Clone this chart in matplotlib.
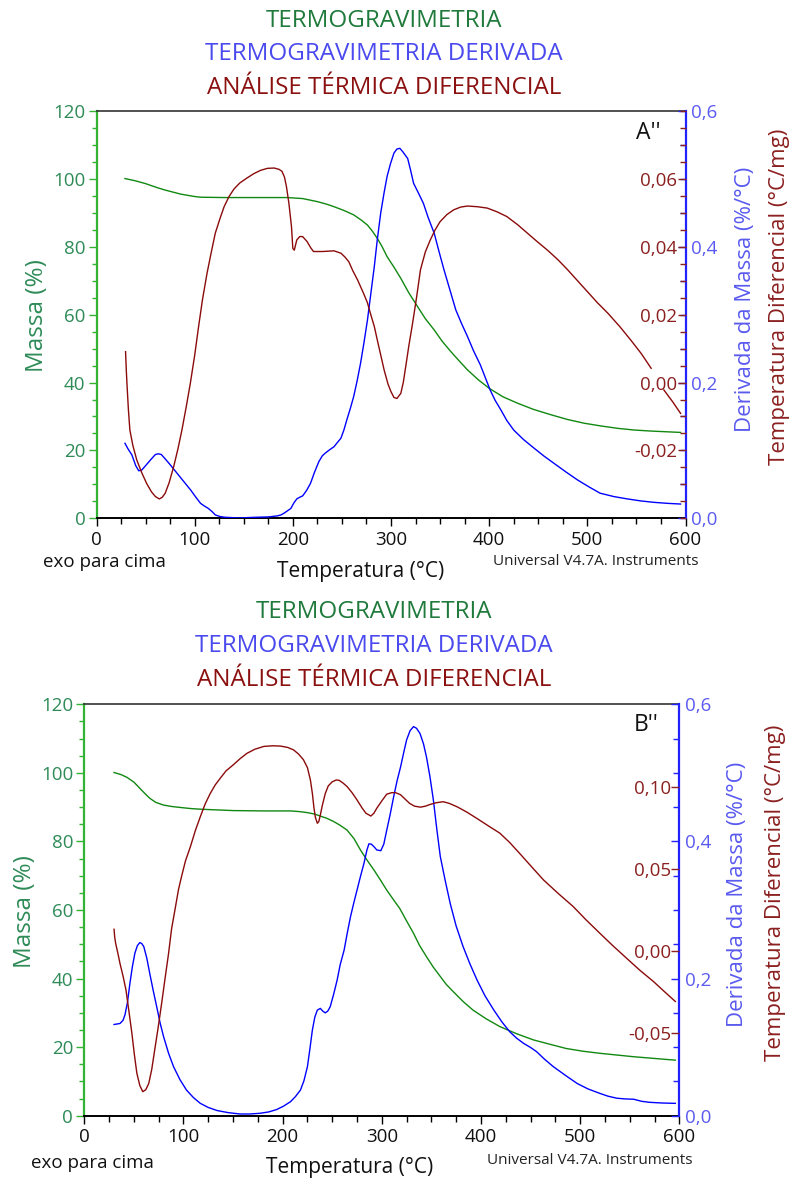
import matplotlib
matplotlib.use('Agg')
import matplotlib.pyplot as plt
from matplotlib.ticker import MultipleLocator, FixedLocator, FuncFormatter
import numpy as np

plt.rcParams['font.family'] = ['Open Sans', 'DejaVu Sans']

# ---------------- Panel A'' data ----------------
a_tg_T = [29, 40, 50, 62, 70, 78, 86, 92, 100, 106, 130, 160, 194, 210, 225, 235, 242, 252,
          262, 270, 276, 281, 286, 291, 296, 303, 310, 318, 327, 335, 344, 352, 361, 370,
          378, 389, 400, 414, 429, 445, 463, 480, 497, 514, 531, 548, 565, 580, 595]
a_tg = [100.1, 99.4, 98.6, 97.4, 96.7, 96.1, 95.5, 95.2, 94.8, 94.6, 94.5, 94.5, 94.5, 94.2,
        93.3, 92.5, 91.8, 90.7, 89.4, 87.8, 86.4, 84.6, 82.5, 80.0, 77.1, 74.0, 70.7, 66.5,
        62.4, 58.8, 55.5, 52.2, 49.1, 46.2, 43.7, 40.8, 38.3, 35.8, 33.9, 32.1, 30.5, 29.1,
        28.0, 27.2, 26.5, 26.0, 25.7, 25.5, 25.3]

a_dtg_T = [29, 32, 36, 40, 43, 46, 50, 55, 60, 63, 66, 70, 75, 82, 89, 96, 101, 106, 110,
           114, 118, 121, 126, 131, 145, 162, 175, 184, 188, 191, 194, 198, 201, 204, 207,
           210, 214, 218, 222, 226.5, 230, 233, 238, 242, 245, 249, 252, 255, 258.5, 262,
           265.5, 269, 272.5, 276, 279.5, 283, 286, 289.5, 293, 296, 299.5, 303, 306, 309,
           312, 317, 320, 323, 328, 333, 338, 344, 349, 354, 360, 366, 372, 378, 384, 391,
           396, 401, 406, 412, 418, 425, 435, 446, 456, 466, 478, 490, 502, 513, 527, 541,
           555, 568, 582, 595]
a_dtg = [0.1105, 0.1025, 0.0935, 0.0775, 0.0700, 0.0710, 0.0775, 0.0860, 0.0940, 0.0950,
         0.0940, 0.0875, 0.0790, 0.0665, 0.0540, 0.0415, 0.0315, 0.0220, 0.0180, 0.0145,
         0.0095, 0.0050, 0.0025, 0.0015, 0.0005, 0.0015, 0.0020, 0.0035, 0.0050, 0.0075,
         0.0105, 0.0145, 0.0225, 0.0285, 0.0310, 0.0330, 0.0410, 0.0515, 0.0675, 0.0835,
         0.0920, 0.0960, 0.1015, 0.1055, 0.1110, 0.1180, 0.1300, 0.1450, 0.1615, 0.1795,
         0.2025, 0.2285, 0.2590, 0.2920, 0.3315, 0.3710, 0.4100, 0.4495, 0.4800, 0.5035,
         0.5225, 0.5380, 0.5440, 0.5450, 0.5400, 0.5300, 0.5125, 0.4935, 0.4790, 0.4640,
         0.4425, 0.4200, 0.3925, 0.3660, 0.3365, 0.3070, 0.2865, 0.2675, 0.2470, 0.2260,
         0.2075, 0.1890, 0.1740, 0.1595, 0.1440, 0.1300, 0.1160, 0.1030, 0.0915, 0.0810,
         0.0685, 0.0565, 0.0460, 0.0370, 0.0320, 0.0285, 0.0255, 0.0235, 0.0220, 0.0210]

a_dta_T = [29.6, 30.3, 31, 32.5, 34, 37, 41, 46, 51, 56, 60, 64, 67, 70, 74, 78.6, 83, 87,
           91.5, 95.6, 100, 104, 108, 112.6, 117, 121, 126, 130, 135, 140, 146, 153, 160, 167,
           174, 181, 186, 189, 191.5, 193.5, 196, 198.6, 200, 201.5, 204, 207, 210, 214.6,
           218, 221, 230, 242, 249, 253, 257, 261, 266, 272, 276, 279, 283, 286, 290, 293,
           297, 300, 303, 306, 310, 312.5, 315, 318, 322, 326, 330, 335, 340, 345, 350, 357,
           364, 371, 378, 388, 398, 408, 418, 429, 439, 449, 459, 470, 480, 490, 500, 510,
           521, 533, 544, 555, 565, 571, 578, 587, 595]
a_dta = [0.0091, 0.0040, -0.0002, -0.0080, -0.0140, -0.0185, -0.0228, -0.0265, -0.0297,
         -0.0322, -0.0336, -0.0343, -0.0338, -0.0326, -0.0295, -0.0248, -0.0195, -0.0140,
         -0.0070, -0.0002, 0.0080, 0.0165, 0.0245, 0.0322, 0.0385, 0.0440, 0.0485, 0.0518,
         0.0548, 0.0570, 0.0588, 0.0602, 0.0615, 0.0625, 0.0631, 0.0632, 0.0628, 0.0622,
         0.0605, 0.0577, 0.0528, 0.0460, 0.0395, 0.0390, 0.0420, 0.0430, 0.0430, 0.0415,
         0.0398, 0.0386, 0.0386, 0.0388, 0.0381, 0.0370, 0.0356, 0.0330, 0.0302, 0.0263,
         0.0235, 0.0204, 0.0165, 0.0126, 0.0075, 0.0037, -0.0005, -0.0027, -0.0044, -0.0047,
         -0.0032, 0.0000, 0.0047, 0.0105, 0.0175, 0.0250, 0.0332, 0.0385, 0.0420, 0.0450,
         0.0474, 0.0495, 0.0509, 0.0517, 0.0520, 0.0518, 0.0514, 0.0503, 0.0489, 0.0465,
         0.0440, 0.0415, 0.0391, 0.0362, 0.0332, 0.0300, 0.0268, 0.0236, 0.0204, 0.0165,
         0.0126, 0.0085, 0.0042, np.nan, -0.0022, -0.0057, -0.0091]

# ---------------- Panel B'' data ----------------
b_tg_T = [30, 37, 43, 50, 56, 61, 66, 72, 80, 88, 97, 107, 117, 150, 180, 208, 217, 225, 232,
          238, 245, 251.5, 258, 265, 272, 278.5, 285, 292, 298.5, 305, 312, 318, 325, 332,
          338, 345, 352, 359, 365, 372, 382, 392, 405, 419, 436, 453, 470, 486, 503, 520,
          537, 554, 575, 596]
b_tg = [100.1, 99.5, 98.7, 97.3, 95.5, 94.0, 92.6, 91.4, 90.6, 90.2, 89.9, 89.6, 89.4, 89.0,
        88.9, 88.9, 88.7, 88.4, 88.0, 87.4, 86.7, 85.8, 84.7, 83.3, 80.8, 77.5, 74.6, 71.7,
        68.8, 65.8, 62.9, 60.5, 56.8, 53.2, 49.7, 46.4, 43.3, 40.6, 38.3, 36.2, 33.3, 30.8,
        28.3, 26.0, 23.9, 22.1, 20.8, 19.6, 18.8, 18.2, 17.7, 17.2, 16.7, 16.2]

b_dtg_T = [30, 36, 39, 41, 43.5, 46, 48.5, 51, 53.5, 56, 58, 60, 63, 66, 69.5, 73, 76.5, 80,
           85, 90, 96.5, 103, 110, 117, 125, 134, 145, 157, 167, 177, 186, 194, 201, 208, 213,
           218, 221.5, 225, 227.5, 230, 232.5, 235, 238, 240.5, 243, 245.5, 248, 251.5, 255,
           258, 262, 265, 268.4, 271.7, 275, 278.5, 282, 285, 287, 289.5, 292, 295, 299, 302,
           305, 308.5, 312, 315.5, 319, 322, 325, 328.5, 332, 335, 338.5, 342, 345, 348.5,
           352, 355.5, 359, 364, 369, 375, 382, 389, 396, 404, 413, 421, 429, 436, 443, 450,
           456, 464, 473, 485, 497, 508, 520, 528, 537, 545, 554, 562, 570, 583, 596]
b_dtg = [0.1330, 0.1345, 0.1390, 0.1470, 0.1650, 0.1930, 0.2175, 0.2370, 0.2480, 0.2525,
         0.2510, 0.2465, 0.2300, 0.2075, 0.1825, 0.1590, 0.1350, 0.1150, 0.0910, 0.0715,
         0.0525, 0.0375, 0.0265, 0.0180, 0.0120, 0.0075, 0.0045, 0.0025, 0.0025, 0.0035,
         0.0055, 0.0090, 0.0140, 0.0205, 0.0280, 0.0375, 0.0510, 0.0715, 0.0975, 0.1250,
         0.1440, 0.1540, 0.1565, 0.1525, 0.1500, 0.1525, 0.1590, 0.1775, 0.1980, 0.2200,
         0.2415, 0.2650, 0.2900, 0.3100, 0.3290, 0.3490, 0.3680, 0.3875, 0.3965, 0.3960,
         0.3925, 0.3875, 0.3865, 0.3960, 0.4165, 0.4400, 0.4655, 0.4890, 0.5090, 0.5290,
         0.5480, 0.5615, 0.5675, 0.5650, 0.5575, 0.5425, 0.5235, 0.4950, 0.4605, 0.4175,
         0.3780, 0.3425, 0.3095, 0.2765, 0.2465, 0.2210, 0.1980, 0.1750, 0.1540, 0.1370,
         0.1225, 0.1130, 0.1055, 0.0995, 0.0935, 0.0825, 0.0715, 0.0590, 0.0470, 0.0390,
         0.0325, 0.0285, 0.0255, 0.0245, 0.0240, 0.0210, 0.0195, 0.0185, 0.0180]

b_dta_T = [30, 30.7, 31.6, 34, 36, 39, 42, 45, 48, 50.5, 53, 56, 59, 62, 65, 68, 71, 74.5, 78,
           81.5, 85, 88, 92, 95, 98, 102, 107, 112, 117, 122, 127, 132, 137, 143, 150, 157,
           164, 172, 181, 190, 198, 205, 211, 216, 221, 225, 228, 230, 231.5, 233, 235, 236.5,
           238, 240, 243, 246, 250, 254, 257, 261, 265, 270, 275, 280, 284, 289, 292, 295,
           300, 305, 310, 314, 319, 324, 328, 333, 339, 344, 349, 355, 362, 368, 376, 386,
           396, 407, 419, 429, 439, 451, 463, 478, 493, 506, 520, 533, 547, 560, 574, 585, 596]
b_dta = [0.0133, 0.0083, 0.0048, -0.0017, -0.0075, -0.0150, -0.0235, -0.0365, -0.0500,
         -0.0629, -0.0742, -0.0817, -0.0854, -0.0842, -0.0804, -0.0719, -0.0600, -0.0463,
         -0.0317, -0.0163, -0.0013, 0.0135, 0.0271, 0.0375, 0.0452, 0.0548, 0.0635, 0.0733,
         0.0817, 0.0896, 0.0958, 0.1010, 0.1050, 0.1096, 0.1131, 0.1169, 0.1202, 0.1227,
         0.1244, 0.1248, 0.1246, 0.1238, 0.1223, 0.1198, 0.1163, 0.1115, 0.1040, 0.0958,
         0.0875, 0.0813, 0.0777, 0.0788, 0.0827, 0.0885, 0.0958, 0.1004, 0.1029, 0.1040,
         0.1038, 0.1021, 0.1000, 0.0963, 0.0919, 0.0871, 0.0838, 0.0821, 0.0838, 0.0869,
         0.0913, 0.0954, 0.0963, 0.0963, 0.0950, 0.0921, 0.0898, 0.0881, 0.0875, 0.0881,
         0.0892, 0.0902, 0.0908, 0.0898, 0.0877, 0.0844, 0.0806, 0.0763, 0.0717, 0.0660,
         0.0594, 0.0513, 0.0433, 0.0350, 0.0271, 0.0190, 0.0108, 0.0033, -0.0044, -0.0115,
         -0.0185, -0.0246, -0.0306]

titles = ["TERMOGRAVIMETRIA", "TERMOGRAVIMETRIA DERIVADA", "ANÁLISE TÉRMICA DIFERENCIAL"]
title_colors = ["#1f7a3c", "#4a4aee", "#8b1010"]

GREEN_LINE = "#118811"
GREEN_SPINE = "#33b233"
GREEN_TXT = "#2e8b57"
BLUE_LINE = "#0000ff"
BLUE_TXT = "#5a5af0"
RED_LINE = "#8b0a0a"
RED_TXT = "#8b2020"

W, H = 791, 1180
fig = plt.figure(figsize=(W / 100, H / 100), dpi=100)


def fx(px):
    return px / W


def fy(py):
    return 1 - py / H


def comma(fmt):
    def f(v, p):
        s = (fmt % v).replace('.', ',')
        if s.startswith('-') and float(s[1:].replace(',', '.')) == 0:
            s = s[1:]
        return s
    return FuncFormatter(f)


def panel(box, tg_T, tg, dtg_T, dtg, dta_T, dta, dta_lim, dta_ticks, dta_minor, letter,
          letter_xy, title_ys, title_x, ml_x, dl_x, tl_x, lab_y, xl_xy, exo_xy, uni_xy):
    x0, x1, y0, y1 = box
    ax = fig.add_axes([fx(x0), fy(y1), fx(x1) - fx(x0), fy(y0) - fy(y1)])
    ax.set_xlim(0, 600)
    ax.set_ylim(0, 120)
    ax.plot(tg_T, tg, color=GREEN_LINE, lw=1.0, zorder=3)

    ax2 = ax.twinx()
    ax2.set_ylim(0, 0.6)
    ax2.plot(dtg_T, dtg, color=BLUE_LINE, lw=1.0, zorder=3)

    ax3 = ax.twinx()
    ax3.set_ylim(*dta_lim)
    ax3.plot(dta_T, dta, color=RED_LINE, lw=1.0, zorder=3)

    for a in (ax, ax2, ax3):
        a.patch.set_visible(False)
        for s in a.spines.values():
            s.set_visible(False)
    ax.spines['left'].set_visible(True)
    ax.spines['left'].set_color(GREEN_SPINE)
    ax.spines['left'].set_linewidth(1.6)
    ax.spines['top'].set_visible(True)
    ax.spines['top'].set_color('#333333')
    ax.spines['top'].set_linewidth(1.2)
    ax.spines['bottom'].set_visible(True)
    ax.spines['bottom'].set_color('black')
    ax.spines['bottom'].set_linewidth(1.4)
    ax2.spines['right'].set_visible(True)
    ax2.spines['right'].set_color('#2222ff')
    ax2.spines['right'].set_linewidth(1.6)

    # x axis
    ax.xaxis.set_major_locator(MultipleLocator(100))
    ax.xaxis.set_minor_locator(MultipleLocator(25))
    ax.tick_params(axis='x', which='major', direction='out', length=6, width=1,
                   color='black', labelsize=13.5, labelcolor='#111111', pad=3)
    ax.tick_params(axis='x', which='minor', direction='out', length=4, width=1, color='black')

    # mass axis
    ax.yaxis.set_major_locator(MultipleLocator(20))
    ax.yaxis.set_minor_locator(MultipleLocator(5))
    ax.tick_params(axis='y', which='major', direction='out', length=6, width=1,
                   color=GREEN_SPINE, labelsize=13.5, labelcolor=GREEN_TXT, pad=2)
    ax.tick_params(axis='y', which='minor', direction='out', length=3.5, width=1,
                   color=GREEN_SPINE)

    # DTG axis
    ax2.yaxis.set_major_locator(MultipleLocator(0.2))
    ax2.yaxis.set_minor_locator(MultipleLocator(0.05))
    ax2.yaxis.set_major_formatter(comma('%.1f'))
    ax2.tick_params(axis='y', which='major', direction='in', length=6, width=1,
                    color='#2222ff', labelsize=13.5, labelcolor=BLUE_TXT, pad=4)
    ax2.tick_params(axis='y', which='minor', direction='in', length=4, width=1, color='#2222ff')

    # DTA axis (labels inside)
    ax3.yaxis.set_major_locator(FixedLocator(dta_ticks))
    if dta_minor:
        ax3.yaxis.set_minor_locator(MultipleLocator(dta_minor))
    ax3.yaxis.set_major_formatter(comma('%.2f'))
    ax3.tick_params(axis='y', which='major', direction='in', length=6, width=1,
                    color=RED_TXT, labelsize=13.5, labelcolor=RED_TXT, pad=-6)
    ax3.tick_params(axis='y', which='minor', direction='in', length=4, width=1, color=RED_TXT)
    for lab in ax3.get_yticklabels():
        lab.set_horizontalalignment('right')

    # titles
    for t, c, yy in zip(titles, title_colors, title_ys):
        fig.text(fx(title_x), fy(yy), t, color=c, fontsize=17.4, ha='center', va='center')

    fig.text(fx(ml_x), fy(lab_y[0]), "Massa (%)", color=GREEN_TXT, fontsize=17.5,
             rotation=90, ha='center', va='center')
    fig.text(fx(dl_x), fy(lab_y[1]), "Derivada da Massa (%/°C)", color=BLUE_TXT,
             fontsize=16, rotation=90, ha='center', va='center')
    fig.text(fx(tl_x), fy(lab_y[2]), "Temperatura Diferencial (°C/mg)", color=RED_TXT,
             fontsize=16, rotation=90, ha='center', va='center')
    fig.text(fx(xl_xy[0]), fy(xl_xy[1]), "Temperatura (°C)", color='#111111', fontsize=15,
             ha='center', va='center')
    fig.text(fx(exo_xy[0]), fy(exo_xy[1]), "exo para cima", color='#111111', fontsize=13.5,
             ha='left', va='center')
    fig.text(fx(uni_xy[0]), fy(uni_xy[1]), "Universal V4.7A. Instruments", color='#222222',
             fontsize=11, ha='left', va='center')
    fig.text(fx(letter_xy[0]), fy(letter_xy[1]), letter, color='#111111', fontsize=16.5,
             ha='left', va='center')


panel((96.5, 685.5, 111, 518.3), a_tg_T, a_tg, a_dtg_T, a_dtg, a_dta_T, a_dta,
      (-0.04, 0.08), [-0.02, 0.0, 0.02, 0.04, 0.06], 0.005, "A''", (636, 133),
      (21, 54, 87.5), 384, 37, 745, 780, (316, 299, 297), (361, 572), (43, 562), (493, 562))

panel((84.3, 679.3, 704.3, 1115.7), b_tg_T, b_tg, b_dtg_T, b_dtg, b_dta_T, b_dta,
      (-0.10, 0.15), [-0.05, 0.0, 0.05, 0.10], None, "B''", (634, 725),
      (612.5, 646, 679.5), 374, 25, 738, 775, (912, 894, 893), (350, 1167), (31, 1163),
      (487, 1160))

fig.savefig('out.png', dpi=100)
